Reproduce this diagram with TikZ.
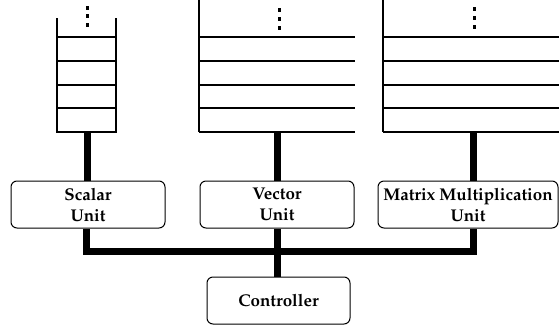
\documentclass[tikz,border=0pt]{standalone}
\usepackage[T1]{fontenc}
\usepackage{mathpazo}
\begin{document}
\begin{tikzpicture}[x=1pt,y=-1pt,
  stackline/.style={line width=2pt},
  unitbox/.style={draw,line width=1pt,rounded corners=6pt,minimum height=47pt,
    inner sep=0pt,align=center,font=\fontsize{17}{21}\selectfont\bfseries},
  bus/.style={line width=7pt,line join=miter},
  dotmark/.style={fill=black}]
\useasboundingbox (0,0) rectangle (559,327);

% scalar register stack
\draw[stackline] (57,18) -- (57,132) -- (116,132) -- (116,18);
\foreach \y in {37,61,85,108} \draw[stackline] (57,\y) -- (116,\y);
\foreach \y in {8,16,25} \fill[dotmark] (85.5,\y-1.75) rectangle +(3.5,3.5);

% vector register file
\draw[stackline] (199,0) -- (199,132);
\foreach \y in {37,61,85,108,132} \draw[stackline] (199,\y) -- (355,\y);
\foreach \y in {10,19,28} \fill[dotmark] (277.5,\y-1.75) rectangle +(3.5,3.5);

% matrix register file
\draw[stackline] (383,0) -- (383,132);
\foreach \y in {37,61,85,108,132} \draw[stackline] (383,\y) -- (560,\y);
\foreach \y in {9,18,27} \fill[dotmark] (472.5,\y-1.75) rectangle +(3.5,3.5);

\coordinate (sbot) at (87,132);
\coordinate (vbot) at (277,132);
\coordinate (mbot) at (473,132);

% processing units
\node[unitbox,minimum width=154pt] (scalar) at (88,204.5) {Scalar\\Unit};
\node[unitbox,minimum width=154pt] (vector) at (277,204.5) {Vector\\Unit};
\node[unitbox,minimum width=180pt] (matrix) at (468,204.5) {Matrix Multiplication\\Unit};
\node[unitbox,minimum width=143pt] (ctrl) at (278.5,300.5) {Controller};

% register file ports
\draw[bus] (sbot) -- (sbot |- scalar.north);
\draw[bus] (vbot) -- (vbot |- vector.north);
\draw[bus] (mbot) -- (mbot |- matrix.north);

% control bus
\coordinate (busL) at (86,251);
\coordinate (busR) at (473,251);
\draw[bus] (scalar.south -| busL) -- (busL) -- (busR) -- (matrix.south -| busR);
\draw[bus] (vector.south -| vbot) -- (ctrl.north -| vbot);
\end{tikzpicture}
\end{document}
